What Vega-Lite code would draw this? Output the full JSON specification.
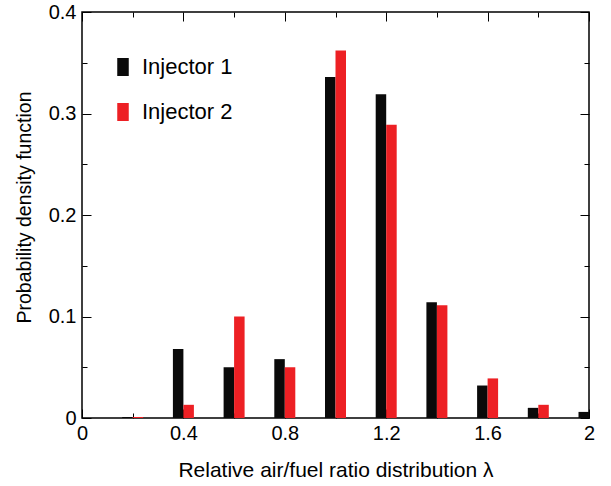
{
  "$schema": "https://vega.github.io/schema/vega-lite/v6.json",
  "autosize": {"type": "none"},
  "padding": {"left": 82, "top": 12, "right": 22, "bottom": 68},
  "width": 507,
  "height": 406,
  "background": "white",
  "config": {
    "font": "Liberation Sans",
    "view": {"stroke": "black", "strokeWidth": 1.5},
    "axis": {"grid": false, "domain": false, "tickColor": "black", "tickWidth": 1, "labelColor": "black", "titleColor": "black", "labelFont": "Liberation Sans", "titleFont": "Liberation Sans", "titleFontWeight": "normal"}
  },
  "data": {
    "values": [
      {"lambda": 0.2, "injector": "Injector 1", "pdf": 0.001},
      {"lambda": 0.2, "injector": "Injector 2", "pdf": 0.001},
      {"lambda": 0.4, "injector": "Injector 1", "pdf": 0.068},
      {"lambda": 0.4, "injector": "Injector 2", "pdf": 0.013},
      {"lambda": 0.6, "injector": "Injector 1", "pdf": 0.050},
      {"lambda": 0.6, "injector": "Injector 2", "pdf": 0.100},
      {"lambda": 0.8, "injector": "Injector 1", "pdf": 0.058},
      {"lambda": 0.8, "injector": "Injector 2", "pdf": 0.050},
      {"lambda": 1.0, "injector": "Injector 1", "pdf": 0.336},
      {"lambda": 1.0, "injector": "Injector 2", "pdf": 0.362},
      {"lambda": 1.2, "injector": "Injector 1", "pdf": 0.319},
      {"lambda": 1.2, "injector": "Injector 2", "pdf": 0.289},
      {"lambda": 1.4, "injector": "Injector 1", "pdf": 0.114},
      {"lambda": 1.4, "injector": "Injector 2", "pdf": 0.111},
      {"lambda": 1.6, "injector": "Injector 1", "pdf": 0.032},
      {"lambda": 1.6, "injector": "Injector 2", "pdf": 0.039},
      {"lambda": 1.8, "injector": "Injector 1", "pdf": 0.010},
      {"lambda": 1.8, "injector": "Injector 2", "pdf": 0.013},
      {"lambda": 2.0, "injector": "Injector 1", "pdf": 0.006}
    ]
  },
  "resolve": {"axis": {"x": "independent", "y": "independent"}},
  "layer": [
    {
      "transform": [{"filter": "datum.injector === 'Injector 1'"}],
      "mark": {"type": "bar", "width": 10.5, "xOffset": -5.25, "clip": true},
      "encoding": {
        "x": {
          "field": "lambda", "type": "quantitative",
          "scale": {"domain": [0, 2], "nice": false, "zero": true, "padding": 0},
          "axis": {
            "orient": "bottom",
            "values": [0, 0.2, 0.4, 0.6, 0.8, 1.0, 1.2, 1.4, 1.6, 1.8, 2.0],
            "format": "~g",
            "labelExpr": "round(datum.value*10) % 4 == 0 ? datum.label : ''",
            "tickSize": {"condition": {"test": "round(datum.value*10) % 4 == 0", "value": -9}, "value": -5},
            "labelPadding": 14,
            "labelFontSize": 20,
            "labelFlush": false,
            "title": "Relative air/fuel ratio distribution λ",
            "titleFontSize": 21,
            "titlePadding": 16
          }
        },
        "y": {
          "field": "pdf", "type": "quantitative",
          "scale": {"domain": [0, 0.4], "nice": false, "padding": 0},
          "axis": {
            "orient": "left",
            "values": [0, 0.05, 0.1, 0.15, 0.2, 0.25, 0.3, 0.35, 0.4],
            "format": "~g",
            "labelExpr": "round(datum.value*100) % 10 == 0 ? datum.label : ''",
            "tickSize": {"condition": {"test": "round(datum.value*100) % 10 == 0", "value": -9}, "value": -5},
            "labelPadding": 15,
            "labelFontSize": 20,
            "labelFlush": false,
            "title": "Probability density function",
            "titleFontSize": 19.5,
            "titlePadding": 14,
            "titleY": 195
          }
        },
        "color": {
          "field": "injector", "type": "nominal",
          "scale": {"domain": ["Injector 1", "Injector 2"], "range": ["#0a0a0a", "#ed2024"]},
          "legend": {
            "orient": "none", "legendX": 30, "legendY": 44, "title": null,
            "padding": 0,
            "symbolType": "M-0.64,-1H0.64V1H-0.64Z",
            "symbolSize": 324, "symbolStrokeWidth": 0, "symbolOpacity": 1,
            "labelFontSize": 22, "labelOffset": 8, "rowPadding": 23,
            "labelColor": "black", "labelFont": "Liberation Sans"
          }
        }
      }
    },
    {
      "transform": [{"filter": "datum.injector === 'Injector 2'"}],
      "mark": {"type": "bar", "width": 10.5, "xOffset": 5.25, "clip": true},
      "encoding": {
        "x": {
          "field": "lambda", "type": "quantitative",
          "axis": {
            "orient": "top",
            "values": [0, 0.2, 0.4, 0.6, 0.8, 1.0, 1.2, 1.4, 1.6, 1.8, 2.0],
            "labels": false,
            "tickSize": {"condition": {"test": "round(datum.value*10) % 4 == 0", "value": -9}, "value": -5},
            "title": null
          }
        },
        "y": {
          "field": "pdf", "type": "quantitative",
          "axis": {
            "orient": "right",
            "values": [0, 0.05, 0.1, 0.15, 0.2, 0.25, 0.3, 0.35, 0.4],
            "labels": false,
            "tickSize": {"condition": {"test": "round(datum.value*100) % 10 == 0", "value": -9}, "value": -5},
            "title": null
          }
        },
        "color": {"field": "injector", "type": "nominal"}
      }
    }
  ]
}
